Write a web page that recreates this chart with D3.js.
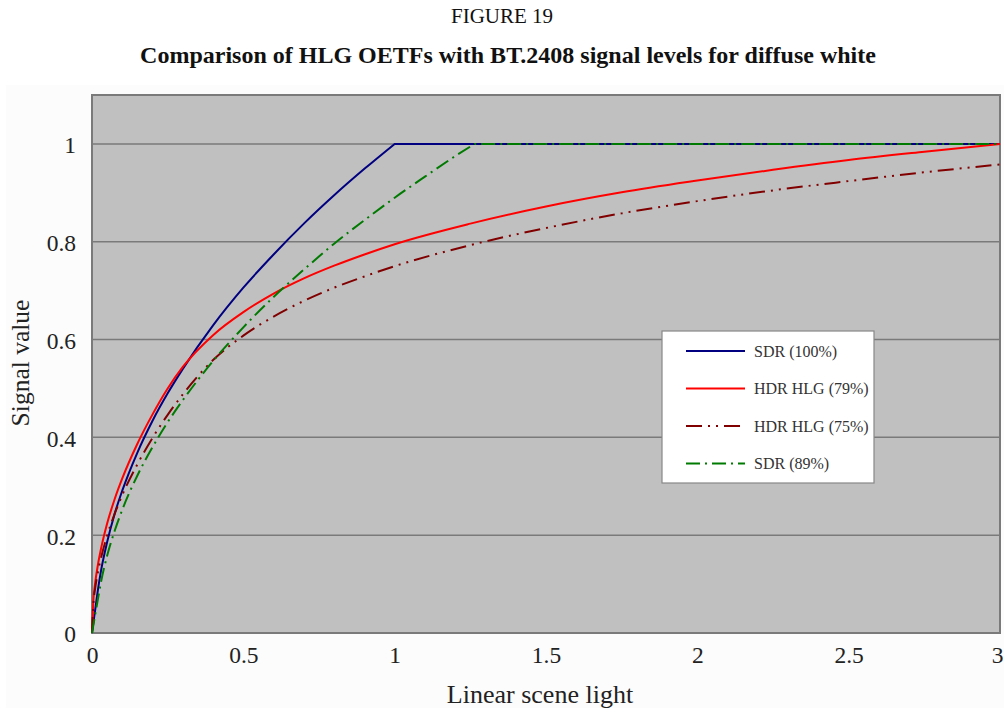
<!DOCTYPE html>
<html><head><meta charset="utf-8">
<script src="https://cdn.jsdelivr.net/npm/d3@7"></script>
<style>body{margin:0;background:#fff;} svg{display:block;} text{font-family:"Liberation Serif","Times New Roman",serif;}</style>
</head><body>
<svg id="chart" width="1004" height="708"></svg>
<script>
// ---- data ----
const xTicks = [0, 0.5, 1, 1.5, 2, 2.5, 3];
const xTickLabels = ["0", "0.5", "1", "1.5", "2", "2.5", "3"];
const yTicks = [0, 0.2, 0.4, 0.6, 0.8, 1];
const yTickLabels = ["0", "0.2", "0.4", "0.6", "0.8", "1"];

const sdr100X = [0, 0.005, 0.01, 0.02, 0.03, 0.05, 0.075, 0.1, 0.15, 0.2, 0.25, 0.3, 0.4, 0.5, 0.6, 0.7, 0.8, 0.9, 1.0, 1.5, 2.0, 2.5, 3.0];
const sdr100Y = [0, 0.0225, 0.045, 0.090, 0.128, 0.186, 0.244, 0.291, 0.369, 0.434, 0.490, 0.540, 0.629, 0.706, 0.774, 0.837, 0.895, 0.949, 1.0, 1.0, 1.0, 1.0, 1.0];

const hlg79X = [0, 0.005, 0.01, 0.02, 0.03, 0.05, 0.075, 0.1, 0.15, 0.2, 0.25, 0.3, 0.4, 0.5, 0.6, 0.7, 0.8, 0.9, 1.0, 1.25, 1.5, 1.75, 2.0, 2.25, 2.5, 2.75, 3.0];
const hlg79Y = [0, 0.071, 0.100, 0.141, 0.173, 0.224, 0.274, 0.316, 0.387, 0.447, 0.500, 0.544, 0.609, 0.656, 0.694, 0.725, 0.751, 0.774, 0.795, 0.837, 0.872, 0.901, 0.925, 0.947, 0.967, 0.984, 1.0];

const hlg75X = [0, 0.005, 0.01, 0.02, 0.03, 0.05, 0.075, 0.1, 0.15, 0.2, 0.25, 0.3, 0.4, 0.5, 0.6, 0.7, 0.8, 0.9, 1.0, 1.25, 1.5, 1.75, 2.0, 2.25, 2.5, 2.75, 3.0];
const hlg75Y = [0, 0.063, 0.089, 0.126, 0.154, 0.199, 0.244, 0.282, 0.345, 0.399, 0.446, 0.488, 0.558, 0.608, 0.647, 0.679, 0.706, 0.729, 0.750, 0.793, 0.828, 0.858, 0.883, 0.905, 0.924, 0.942, 0.958];

const sdr89X = [0, 0.005, 0.01, 0.02, 0.03, 0.05, 0.075, 0.1, 0.15, 0.2, 0.25, 0.3, 0.4, 0.5, 0.6, 0.7, 0.8, 0.9, 1.0, 1.1, 1.2, 1.264, 1.5, 2.0, 2.5, 3.0];
const sdr89Y = [0, 0.018, 0.036, 0.071, 0.105, 0.158, 0.209, 0.252, 0.322, 0.380, 0.431, 0.476, 0.556, 0.625, 0.687, 0.743, 0.796, 0.844, 0.890, 0.933, 0.975, 1.0, 1.0, 1.0, 1.0, 1.0];

const seriesNames = ["SDR (100%)", "HDR HLG (79%)", "HDR HLG (75%)", "SDR (89%)"];
const seriesColors = ["#000080", "#ff0000", "#800000", "#007a00"];
const seriesDash = [null, null, "16,6,2,6,2,6", "14,5,2,5"];
const seriesXs = [sdr100X, hlg79X, hlg75X, sdr89X];
const seriesYs = [sdr100Y, hlg79Y, hlg75Y, sdr89Y];

// ---- layout ----
const svg = d3.select("#chart");
const plot = {left: 92, right: 1000, top: 95, bottom: 633};
const x = d3.scaleLinear().domain([0, 3]).range([plot.left, plot.right]);
const y = d3.scaleLinear().domain([0, 1.1]).range([plot.bottom, plot.top]);

// outer chart area
svg.append("rect").attr("x", 6).attr("y", 85).attr("width", 998).attr("height", 623).attr("fill", "#fcfcfc");

// titles
svg.append("text").attr("x", 502).attr("y", 23).attr("text-anchor", "middle")
  .attr("font-size", 21).attr("fill", "#111").text("FIGURE 19");
svg.append("text").attr("x", 508).attr("y", 63).attr("text-anchor", "middle")
  .attr("font-size", 24).attr("font-weight", "bold").attr("fill", "#111")
  .text("Comparison of HLG OETFs with BT.2408 signal levels for diffuse white");

// plot background
svg.append("rect").attr("x", plot.left).attr("y", plot.top)
  .attr("width", plot.right - plot.left).attr("height", plot.bottom - plot.top)
  .attr("fill", "#c0c0c0");

// gridlines
svg.append("g").selectAll("line").data(yTicks.filter(d => d > 0)).join("line")
  .attr("x1", plot.left).attr("x2", plot.right)
  .attr("y1", d => y(d)).attr("y2", d => y(d))
  .attr("stroke", "#7a7a7a").attr("stroke-width", 1.5);

// axes
const xAxis = d3.axisBottom(x).tickValues(xTicks).tickFormat((d, i) => xTickLabels[i]).tickSize(0).tickPadding(0);
const yAxis = d3.axisLeft(y).tickValues(yTicks).tickFormat((d, i) => yTickLabels[i]).tickSize(0).tickPadding(16);
const gx = svg.append("g").attr("transform", `translate(0,${plot.bottom})`).call(xAxis);
const gy = svg.append("g").attr("transform", `translate(${plot.left},0)`).call(yAxis);
[gx, gy].forEach(g => {
  g.select(".domain").remove();
  g.selectAll("text").attr("font-family", "Liberation Serif, serif").attr("font-size", 23.5).attr("fill", "#222");
});
gx.selectAll("text").attr("y", 30).attr("dy", null).attr("dx", (d, i) => i === xTicks.length - 1 ? -3 : 0);
gy.selectAll("text").attr("dy", "0.38em");

// plot border
svg.append("rect").attr("x", plot.left).attr("y", plot.top)
  .attr("width", plot.right - plot.left).attr("height", plot.bottom - plot.top)
  .attr("fill", "none").attr("stroke", "#7a7a7a").attr("stroke-width", 2);

// curves: smooth rising part, straight clipped part (sharp corner at clip point)
const smooth = d3.line().x(d => x(d[0])).y(d => y(d[1])).curve(d3.curveMonotoneX);
const straight = d3.line().x(d => x(d[0])).y(d => y(d[1]));
seriesNames.forEach((name, i) => {
  const pts = seriesXs[i].map((v, j) => [v, seriesYs[i][j]]);
  const k = pts.findIndex(p => p[1] >= 1);
  let d;
  if (k > 0 && k < pts.length - 1) {
    d = smooth(pts.slice(0, k + 1)) + straight(pts.slice(k)).replace(/^M/, "L");
  } else {
    d = smooth(pts);
  }
  svg.append("path").attr("d", d)
    .attr("fill", "none").attr("stroke", seriesColors[i]).attr("stroke-width", 2)
    .attr("stroke-dasharray", seriesDash[i]).attr("stroke-linejoin", "round");
});

// axis titles
svg.append("text").attr("x", (plot.left + plot.right) / 2 - 6).attr("y", 703).attr("text-anchor", "middle")
  .attr("font-size", 26).attr("fill", "#222").text("Linear scene light");
svg.append("text").attr("transform", `translate(29,363) rotate(-90)`)
  .attr("text-anchor", "middle").attr("font-size", 25.5).attr("fill", "#222").text("Signal value");

// legend
const lg = svg.append("g");
lg.append("rect").attr("x", 662).attr("y", 331).attr("width", 212).attr("height", 152)
  .attr("fill", "#fff").attr("stroke", "#888").attr("stroke-width", 1.2);
seriesNames.forEach((name, i) => {
  const ly = 351 + i * 37.5;
  lg.append("line").attr("x1", 686).attr("x2", 745).attr("y1", ly).attr("y2", ly)
    .attr("stroke", seriesColors[i]).attr("stroke-width", 2).attr("stroke-dasharray", seriesDash[i]);
  lg.append("text").attr("x", 754).attr("y", ly).attr("dy", "0.35em")
    .attr("font-size", 16).attr("fill", "#333").text(name);
});
</script>
</body></html>
